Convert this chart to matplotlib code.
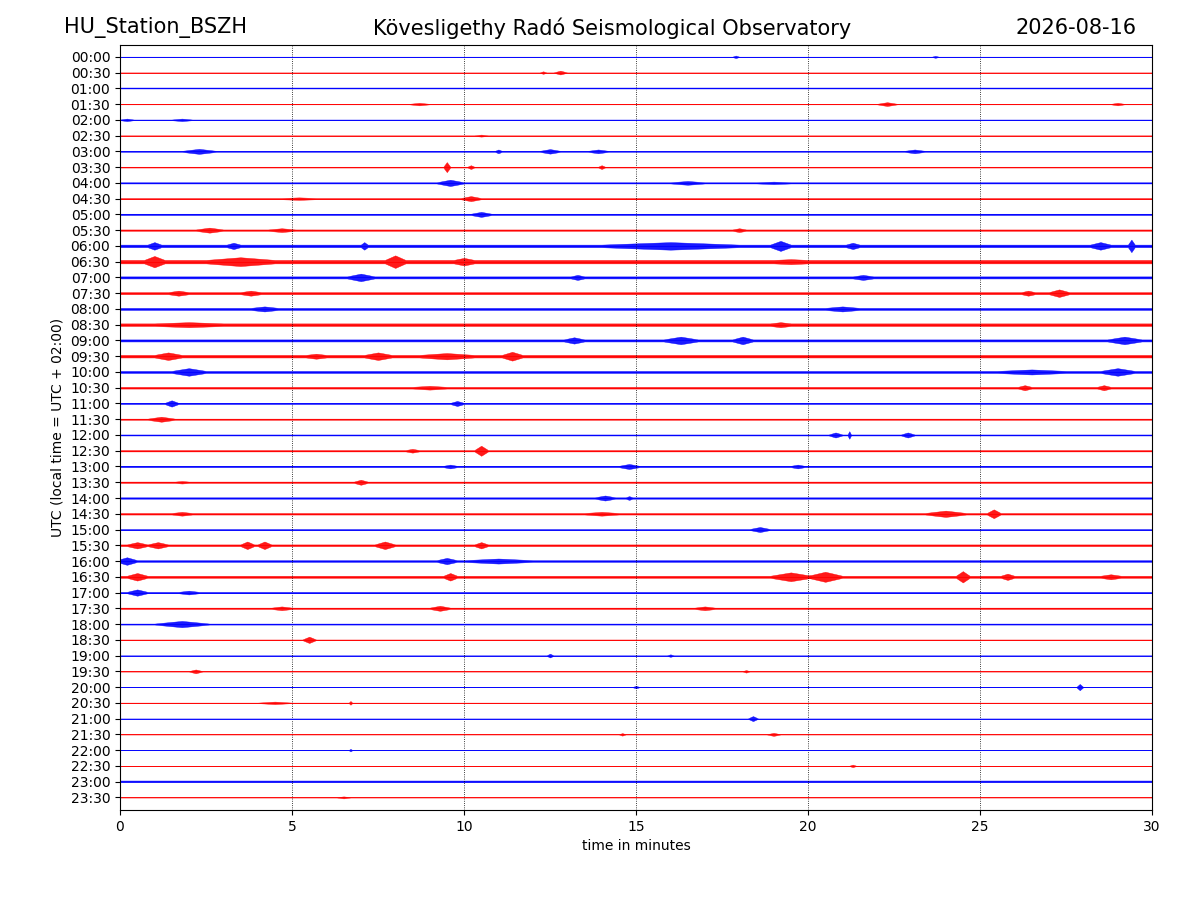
import numpy as np
import matplotlib.pyplot as plt

station = "HU_Station_BSZH"
observatory = "Kövesligethy Radó Seismological Observatory"
date_text = "2026-08-16"

row_labels = ["%02d:%02d" % (h, m) for h in range(24) for m in (0, 30)]

# per row: background amplitude (row units), and bursts (minute, amplitude, half width)
base_amp = [0.02, 0.02, 0.03, 0.03, 0.04, 0.03, 0.06, 0.05, 0.07, 0.07, 0.08, 0.08,
            0.15, 0.2, 0.12, 0.12, 0.12, 0.15, 0.12, 0.15, 0.12, 0.1, 0.07, 0.07,
            0.06, 0.08, 0.08, 0.08, 0.08, 0.09, 0.06, 0.1, 0.1, 0.12, 0.08, 0.08,
            0.06, 0.04, 0.03, 0.03, 0.02, 0.03, 0.02, 0.02, 0.02, 0.02, 0.02, 0.02]

bursts = [
    [(17.9, 0.1, 0.1), (23.7, 0.08, 0.1)],
    [(12.3, 0.1, 0.1), (12.8, 0.15, 0.2)],
    [],
    [(8.7, 0.1, 0.3), (22.3, 0.15, 0.3), (29, 0.1, 0.2)],
    [(0.2, 0.1, 0.2), (1.8, 0.1, 0.3)],
    [(10.5, 0.08, 0.2)],
    [(2.3, 0.2, 0.5), (11, 0.15, 0.1), (12.5, 0.18, 0.3), (13.9, 0.15, 0.3), (23.1, 0.15, 0.3)],
    [(9.5, 0.4, 0.1), (10.2, 0.15, 0.1), (14.0, 0.15, 0.1)],
    [(9.6, 0.25, 0.4), (16.5, 0.15, 0.5), (19, 0.1, 0.5)],
    [(5.2, 0.1, 0.5), (10.2, 0.2, 0.3)],
    [(10.5, 0.2, 0.3)],
    [(2.6, 0.2, 0.4), (4.7, 0.15, 0.4), (18, 0.15, 0.2)],
    [(1.0, 0.3, 0.2), (3.3, 0.25, 0.2), (7.1, 0.3, 0.1), (16, 0.3, 2.0), (19.2, 0.4, 0.3),
     (21.3, 0.25, 0.2), (28.5, 0.3, 0.3), (29.4, 0.5, 0.1)],
    [(1, 0.45, 0.3), (3.5, 0.35, 1), (8.0, 0.5, 0.3), (10.0, 0.3, 0.3), (19.5, 0.2, 0.5)],
    [(7, 0.3, 0.4), (13.3, 0.2, 0.2), (21.6, 0.2, 0.3)],
    [(1.7, 0.2, 0.3), (3.8, 0.2, 0.3), (26.4, 0.2, 0.2), (27.3, 0.3, 0.3)],
    [(4.2, 0.2, 0.4), (21, 0.2, 0.5)],
    [(2, 0.2, 1), (19.2, 0.2, 0.3)],
    [(13.2, 0.25, 0.3), (16.3, 0.3, 0.5), (18.1, 0.3, 0.3), (29.2, 0.3, 0.5)],
    [(1.4, 0.3, 0.4), (5.7, 0.2, 0.3), (7.5, 0.3, 0.4), (9.5, 0.25, 0.8), (11.4, 0.35, 0.3)],
    [(2.0, 0.3, 0.5), (26.5, 0.2, 1), (29, 0.3, 0.5)],
    [(9, 0.15, 0.5), (26.3, 0.2, 0.2), (28.6, 0.2, 0.2)],
    [(1.5, 0.25, 0.2), (9.8, 0.2, 0.2)],
    [(1.2, 0.2, 0.4)],
    [(20.8, 0.2, 0.2), (21.2, 0.3, 0.05), (22.9, 0.2, 0.2)],
    [(8.5, 0.15, 0.2), (10.5, 0.4, 0.2)],
    [(9.6, 0.15, 0.2), (14.8, 0.2, 0.3), (19.7, 0.15, 0.2)],
    [(1.8, 0.1, 0.2), (7.0, 0.2, 0.2)],
    [(14.1, 0.2, 0.3), (14.8, 0.15, 0.1)],
    [(1.8, 0.15, 0.3), (14, 0.15, 0.5), (24, 0.25, 0.6), (25.4, 0.35, 0.2)],
    [(18.6, 0.2, 0.3)],
    [(0.5, 0.25, 0.3), (1.1, 0.25, 0.3), (3.7, 0.3, 0.2), (4.2, 0.3, 0.2), (7.7, 0.3, 0.3), (10.5, 0.25, 0.2)],
    [(0.2, 0.3, 0.3), (9.5, 0.25, 0.3), (11, 0.2, 1)],
    [(0.5, 0.3, 0.3), (9.6, 0.3, 0.2), (19.5, 0.35, 0.6), (20.5, 0.4, 0.5), (24.5, 0.45, 0.2),
     (25.8, 0.25, 0.2), (28.8, 0.2, 0.3)],
    [(0.5, 0.25, 0.3), (2, 0.15, 0.3)],
    [(4.7, 0.15, 0.3), (9.3, 0.2, 0.3), (17, 0.15, 0.3)],
    [(1.8, 0.25, 0.8)],
    [(5.5, 0.25, 0.2)],
    [(12.5, 0.15, 0.1), (16, 0.1, 0.1)],
    [(2.2, 0.15, 0.2), (18.2, 0.1, 0.1)],
    [(15, 0.1, 0.1), (27.9, 0.25, 0.1)],
    [(4.5, 0.1, 0.5), (6.7, 0.15, 0.05)],
    [(18.4, 0.2, 0.15)],
    [(14.6, 0.1, 0.1), (19, 0.12, 0.2)],
    [(6.7, 0.1, 0.05)],
    [(21.3, 0.1, 0.1)],
    [],
    [(6.5, 0.08, 0.2)],
]

base_scale = 0.55
burst_scale = 0.8

fig = plt.figure(figsize=(12, 9), dpi=100)
ax = fig.add_axes([0.1, 0.1, 0.86, 0.85])

for i, lab in enumerate(row_labels):
    color = "blue" if i % 2 == 0 else "red"
    b = base_amp[i] * base_scale
    t = [0.0]
    env = [b]
    for (tc, a, w) in sorted(bursts[i]):
        t += [tc - w, tc, tc + w]
        env += [b, max(a * burst_scale, b), b]
    t.append(30.0)
    env.append(b)
    t = np.array(t)
    env = np.array(env)
    ax.fill_between(t, i - env, i + env, color=color, linewidth=0.3, alpha=0.9)
    ax.plot([0, 30], [i, i], color=color, linewidth=0.6)

ax.set_xlim(0, 30)
ax.set_ylim(47.8, -0.75)
ax.set_yticks(range(len(row_labels)))
ax.set_yticklabels(row_labels)
ax.set_xticks(range(0, 31, 5))
ax.grid(axis="x", linestyle=":", color="black", linewidth=0.6)
ax.set_xlabel("time in minutes")
ax.set_ylabel("UTC (local time = UTC + 02:00)")

fig.text(0.053, 0.969, station, fontsize=15, ha="left", va="center")
fig.text(0.51, 0.969, observatory, fontsize=15, ha="center", va="center")
fig.text(0.947, 0.969, date_text, fontsize=15, ha="right", va="center")

fig.savefig("out.png")
